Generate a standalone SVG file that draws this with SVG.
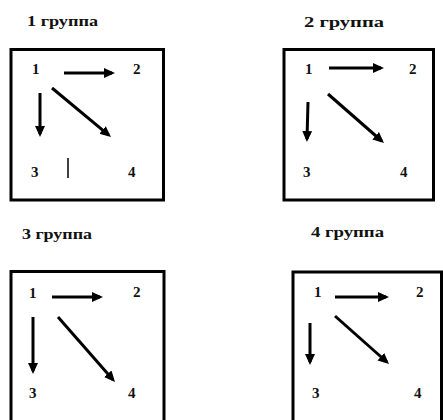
<svg xmlns="http://www.w3.org/2000/svg" width="443" height="420" viewBox="0 0 443 420">
<style>
.box{fill:none;stroke:#000;stroke-width:3}
.title{font-family:"Liberation Serif","Times New Roman",serif;font-size:14px;font-weight:bold;fill:#111}
.num{font-family:"Liberation Serif","Times New Roman",serif;font-size:15px;font-weight:bold;fill:#111}
.arr{stroke:#000;stroke-width:3;fill:none;marker-end:url(#ah)}
.tick{stroke:#000;stroke-width:1.5}
</style>
<defs>
<marker id="ah" markerUnits="userSpaceOnUse" markerWidth="12" markerHeight="11" refX="8" refY="5" orient="auto">
<path d="M0,0 L11,5 L0,10 z" fill="#000"/>
</marker>
</defs>
<rect width="443" height="420" fill="#fff"/>
<g id="group1">
<text class="title" x="27" y="26" textLength="71" lengthAdjust="spacingAndGlyphs">1 группа</text>
<rect class="box" x="11" y="49.5" width="152.5" height="150.5"/>
<text class="num" x="32" y="74">1</text>
<text class="num" x="133" y="74">2</text>
<text class="num" x="31" y="177">3</text>
<text class="num" x="128" y="177">4</text>
</g>
<g id="group2">
<text class="title" x="304" y="27" textLength="80" lengthAdjust="spacingAndGlyphs">2 группа</text>
<rect class="box" x="284" y="49.5" width="149.5" height="150.5"/>
<text class="num" x="305" y="74">1</text>
<text class="num" x="409" y="74">2</text>
<text class="num" x="303" y="177">3</text>
<text class="num" x="400" y="177">4</text>
</g>
<g id="group3">
<text class="title" x="22" y="239" textLength="70" lengthAdjust="spacingAndGlyphs">3 группа</text>
<rect class="box" x="11" y="271.5" width="153" height="155"/>
<text class="num" x="29" y="298">1</text>
<text class="num" x="133" y="297">2</text>
<text class="num" x="29" y="398">3</text>
<text class="num" x="128" y="398">4</text>
</g>
<g id="group4">
<text class="title" x="311" y="237" textLength="73" lengthAdjust="spacingAndGlyphs">4 группа</text>
<rect class="box" x="293" y="272" width="148.5" height="155"/>
<text class="num" x="314" y="297">1</text>
<text class="num" x="416" y="297">2</text>
<text class="num" x="312" y="398">3</text>
<text class="num" x="414" y="398">4</text>
</g>
<g id="connectors">
<line class="arr" x1="64" y1="73" x2="112" y2="73"/>
<line class="arr" x1="40" y1="93" x2="40" y2="134"/>
<line class="arr" x1="52" y1="88" x2="108.7" y2="135.1"/>
<line class="tick" x1="68" y1="158" x2="68" y2="178"/>
<line class="arr" x1="329" y1="68" x2="381" y2="68"/>
<line class="arr" x1="308" y1="102" x2="307" y2="139"/>
<line class="arr" x1="328" y1="94" x2="381.7" y2="141"/>
<line class="arr" x1="52" y1="297" x2="100" y2="297"/>
<line class="arr" x1="33" y1="317" x2="33" y2="371"/>
<line class="arr" x1="58" y1="317" x2="113" y2="379.8"/>
<line class="arr" x1="335" y1="297" x2="386" y2="297"/>
<line class="arr" x1="310" y1="323" x2="310" y2="362"/>
<line class="arr" x1="335" y1="316" x2="386.8" y2="362"/>
</g>
</svg>
